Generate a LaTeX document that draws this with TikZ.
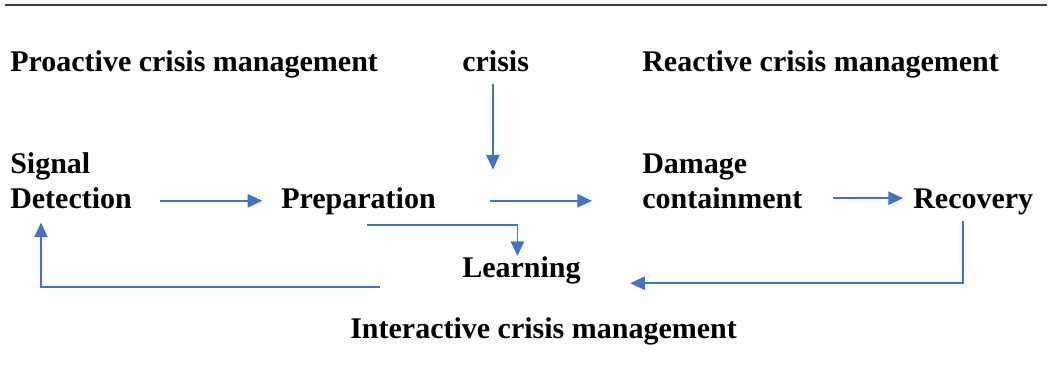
\documentclass[tikz,border=0pt]{standalone}
\usepackage{fontspec}
\setmainfont{Liberation Serif}
\usetikzlibrary{arrows.meta, positioning}

\definecolor{flowblue}{HTML}{4472C4}
\definecolor{rulegray}{HTML}{404040}

\begin{document}
\begin{tikzpicture}[x=0.75pt, y=-0.75pt, >={Triangle[length=11pt, width=10pt]},
    font=\fontsize{22.5}{26.25}\selectfont\bfseries]
    \tikzset{
        lbl/.style={inner sep=0pt, anchor=base west, align=left},
        flow/.style={->, draw=flowblue, line width=1.3pt},
    }
    \useasboundingbox (0,0) rectangle (1052,383);

    % Rule along the top
    \draw[rulegray, line width=1.6pt] (5,5) -- (1047,5);

    % Headings
    \node[lbl] (proactive) at (10,71) {Proactive crisis management};
    \node[lbl] (crisis) at (462,71) {crisis};
    \node[lbl] (reactive) at (642,71) {Reactive crisis management};
    \node[lbl] (interactive) at (350,338) {Interactive crisis management};

    % Phases (two-line nodes sit on their last line)
    \node[lbl] (signal) at (10,208) {Signal\\Detection};
    \node[lbl] (prep) at (281,208) {Preparation};
    \node[lbl] (damage) at (642,208) {Damage\\containment};
    \node[lbl] (recov) at (913,208) {Recovery};
    \node[lbl] (learn) at (462,277) {Learning};

    % Arrows
    \draw[flow] ([xshift=21pt]signal.east |- prep.west) -- ([xshift=-14pt]prep.west);
    \draw[flow] ([xshift=40.5pt]prep.east) -- ([xshift=-37.5pt]prep.east -| damage.west);
    \draw[flow] ([xshift=23pt, yshift=2.4pt]damage.east |- recov.west) -- ([xshift=-7.5pt, yshift=2.4pt]recov.west);
    \draw[flow] ([xshift=-2pt, yshift=-9pt]crisis.south) -- ([xshift=-2pt, yshift=13pt]crisis.south |- prep.north);

    % Feedback loops
    \draw[flow] ([xshift=64.5pt, yshift=-8pt]prep.south west) -| ([xshift=-3pt]learn.north);
    \draw[flow] ([xshift=-7.5pt, yshift=-5pt]recov.south) |- ([xshift=37pt, yshift=-10pt]learn.east);
    \draw[flow] ([xshift=-61.5pt, yshift=-12.75pt]learn.west) -| ([xshift=23.25pt, yshift=-10.5pt]signal.south west);
\end{tikzpicture}
\end{document}
